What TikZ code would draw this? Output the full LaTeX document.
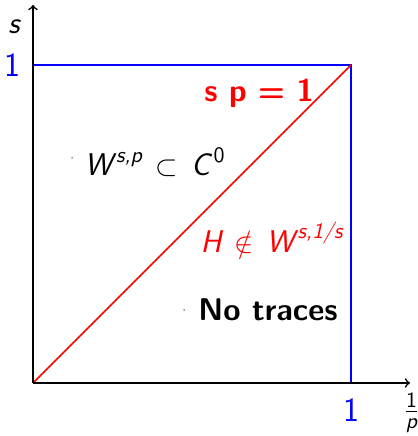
\documentclass[tikz,border=0pt]{standalone}
\usepackage{amsmath,amssymb}
\renewcommand{\familydefault}{\sfdefault}
\usepackage{tikz}
\usetikzlibrary{positioning}
\newcommand{\sv}[1]{\text{\itshape #1}}
\tikzset{
  >=to,
  axis/.style={->,line width=0.8pt,black},
  bluebox/.style={line width=0.8pt,blue},
  diag/.style={line width=0.8pt,red},
  axlbl/.style={font=\fontsize{15.5}{18}\selectfont,inner sep=1pt},
  onelbl/.style={font=\fontsize{17}{20}\selectfont,text=blue,inner sep=1pt},
  reglbl/.style={font=\fontsize{15.7}{18}\selectfont,inner sep=1pt},
  tinydot/.style={circle,fill=black!60,inner sep=0pt,minimum size=0.9pt},
}
\begin{document}
\begin{tikzpicture}[x=159pt,y=159pt]
  \useasboundingbox (-0.1038,-0.1667) rectangle (1.2107,1.2044);
  \coordinate (O) at (0,0);
  \coordinate (A) at (1,0);
  \coordinate (B) at (1,1);
  \coordinate (C) at (0,1);
  \coordinate (xtip) at (1.1855,0);
  \coordinate (ytip) at (0,1.1887);
  % square and diagonal
  \draw[bluebox] (C) -- (B) -- (A);
  \draw[diag] (O) -- (B);
  % axes
  \draw[axis] (O) -- (xtip);
  \draw[axis] (O) -- (ytip);
  \node[axlbl] (slbl) at (-0.060,1.119) {\itshape s};
  \node[axlbl] (plbl) at (1.19,-0.094) {$\frac{\text{1}}{\sv{p}}$};
  \node[onelbl] (onex) at (1,-0.085) {1};
  \node[onelbl] (oney) at (-0.063,1.0) {1};
  % regions
  \node[reglbl,text=red] (sp) at (0.711,0.912) {\textbf{s p = 1}};
  \node[reglbl] (emb) at (0.384,0.695)
    {$\sv{W}^{\,\sv{s,p}}\,\subset\,\sv{C}^{\,\text{0}}$};
  \node[reglbl,text=red] (hv) at (0.752,0.456)
    {$\sv{H}\,\notin\,\sv{W}^{\,\sv{s,1/s}}$};
  \node[reglbl] (notr) at (0.739,0.230) {\textbf{No traces}};
  \node[tinydot] (d1) at (0.123,0.708) {};
  \node[tinydot] (d2) at (0.475,0.230) {};
\end{tikzpicture}
\end{document}
